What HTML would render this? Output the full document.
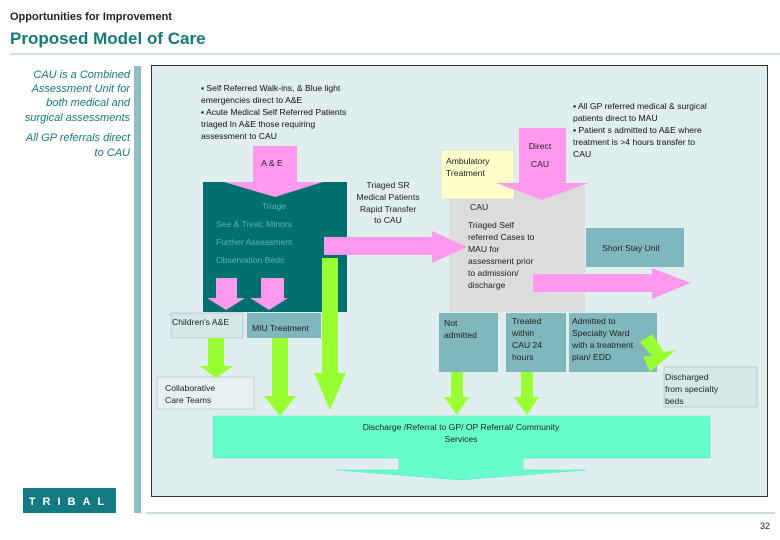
<!DOCTYPE html>
<html><head><meta charset="utf-8"><style>
body{margin:0;width:780px;height:540px;background:#fff;overflow:hidden;font-family:"Liberation Sans",Arial,sans-serif;}
svg{position:absolute;left:0;top:0}
text{font-family:"Liberation Sans",Arial,sans-serif;}
</style></head><body>
<svg width="780" height="540" viewBox="0 0 780 540">
<text x="10" y="20" font-size="11" font-weight="bold" fill="#222">Opportunities for Improvement</text>
<text x="10" y="44" font-size="17" font-weight="bold" fill="#137a78">Proposed Model of Care</text>
<line x1="10" y1="54" x2="780" y2="54" stroke="#9bbcbc" stroke-width="1"/>
<g font-size="11" font-style="italic" fill="#137a78" text-anchor="end">
<text x="130" y="78">CAU is a Combined</text>
<text x="130" y="92">Assessment Unit for</text>
<text x="130" y="106">both medical and</text>
<text x="130" y="121">surgical assessments</text>
<text x="130" y="141">All GP referrals direct</text>
<text x="130" y="156">to CAU</text>
</g>
<rect x="134" y="66" width="7" height="447" fill="#8fbfc2"/>
<rect x="151.5" y="65.5" width="616" height="431" fill="#e0eeee" stroke="#333" stroke-width="1"/>
<line x1="146" y1="513" x2="775" y2="513" stroke="#8fbfc2" stroke-width="1"/>
<rect x="23" y="488" width="93" height="25" fill="#127a80"/>
<text x="70" y="505" font-size="11" font-weight="bold" fill="#fff" text-anchor="middle" letter-spacing="7">TRIBAL</text>
<text x="770" y="529" font-size="9" fill="#222" text-anchor="end">32</text>

<g font-size="8.6" fill="#111">
<text x="201" y="91">▪ Self Referred Walk-ins, &amp; Blue light</text>
<text x="201" y="103">emergencies  direct to A&amp;E</text>
<text x="201" y="115">▪ Acute Medical Self Referred Patients</text>
<text x="201" y="127">triaged In A&amp;E those requiring</text>
<text x="201" y="139">assessment to CAU</text>
<text x="573" y="109">▪ All GP referred medical &amp; surgical</text>
<text x="573" y="121">patients direct to MAU</text>
<text x="573" y="133">▪ Patient s admitted to A&amp;E where</text>
<text x="573" y="145">treatment is &gt;4 hours transfer to</text>
<text x="573" y="157">CAU</text>
</g>

<rect x="203" y="182" width="144" height="130" fill="#00706f"/>
<polygon points="253,146 297,146 297,182 323,182 275,197 224,182 253,182" fill="#ff99ee"/>
<text x="272" y="166" font-size="8.6" fill="#222" text-anchor="middle">A &amp; E</text>
<g font-size="8.6" fill="#5fb3b3">
<text x="262" y="209">Triage</text>
<text x="216" y="227">See &amp; Treat;  Minors</text>
<text x="216" y="245">Further Assessment</text>
<text x="216" y="263">Observation Beds</text>
</g>
<polygon points="216,278 237,278 237,298 245,298 226,310 207,298 216,298" fill="#ff99ee"/>
<polygon points="261,278 284,278 284,298 288,298 269,310 250,298 261,298" fill="#ff99ee"/>

<g font-size="8.6" fill="#222" text-anchor="middle">
<text x="388" y="188">Triaged SR</text>
<text x="388" y="200">Medical Patients</text>
<text x="388" y="212">Rapid Transfer</text>
<text x="388" y="223">to CAU</text>
</g>

<rect x="449" y="187" width="136" height="125" fill="#dcdcdc"/>
<polygon points="324,237 432,237 432,231 467,247 432,263 432,255 324,255" fill="#ff99ee"/>
<rect x="441" y="150" width="73" height="49" fill="#ffffcc" stroke="#ccc" stroke-width="0.5"/>
<text x="446" y="164" font-size="8.6" fill="#222">Ambulatory</text>
<text x="446" y="176" font-size="8.6" fill="#222">Treatment</text>
<polygon points="519,128 566,128 566,183 589,183 542,200 496,183 519,183" fill="#ff99ee"/>
<text x="540" y="149" font-size="8.6" fill="#222" text-anchor="middle">Direct</text>
<text x="540" y="167" font-size="8.6" fill="#222" text-anchor="middle">CAU</text>
<g font-size="8.6" fill="#222">
<text x="470" y="210">CAU</text>
<text x="468" y="228">Triaged Self</text>
<text x="468" y="240">referred Cases to</text>
<text x="468" y="252">MAU for</text>
<text x="468" y="264">assessment prior</text>
<text x="468" y="276">to admission/</text>
<text x="468" y="288">discharge</text>
</g>
<rect x="586" y="228" width="98" height="39" fill="#7fb7bd"/>
<text x="631" y="251" font-size="8.6" fill="#222" text-anchor="middle">Short Stay Unit</text>
<polygon points="533,274 652,274 652,268 691,283 652,299 652,292 533,292" fill="#ff99ee"/>

<rect x="171" y="313" width="72" height="25" fill="#d4e8e8" stroke="#aac" stroke-width="0.5"/>
<text x="172" y="325" font-size="8.6" fill="#222">Children's A&amp;E</text>
<rect x="247" y="313" width="74" height="25" fill="#7fb7bd"/>
<text x="252" y="331" font-size="8.6" fill="#222">MIU Treatment</text>

<rect x="439" y="313" width="59" height="59" fill="#7fb7bd"/>
<text x="444" y="326" font-size="8.6" fill="#222">Not</text>
<text x="444" y="338" font-size="8.6" fill="#222">admitted</text>
<rect x="506" y="313" width="60" height="59" fill="#7fb7bd"/>
<g font-size="8.6" fill="#222">
<text x="512" y="324">Treated</text>
<text x="512" y="336">within</text>
<text x="512" y="348">CAU 24</text>
<text x="512" y="360">hours</text>
</g>
<rect x="569" y="313" width="88" height="59" fill="#7fb7bd"/>
<g font-size="8.6" fill="#222">
<text x="572" y="324">Admitted to</text>
<text x="572" y="336">Specialty Ward</text>
<text x="572" y="348">with a treatment</text>
<text x="572" y="360">plan/ EDD</text>
</g>
<rect x="664" y="367" width="93" height="40" fill="#d4e8e8" stroke="#aab" stroke-width="0.5"/>
<g font-size="8.6" fill="#222">
<text x="665" y="380">Discharged</text>
<text x="665" y="392">from specialty</text>
<text x="665" y="404">beds</text>
</g>
<rect x="157" y="377" width="97" height="32" fill="#e6f2f2" stroke="#aab" stroke-width="0.5"/>
<text x="165" y="391" font-size="8.6" fill="#222">Collaborative</text>
<text x="165" y="403" font-size="8.6" fill="#222">Care Teams</text>

<g fill="#99ff33">
<polygon points="208,338 224,338 224,366 233,366 216,378 200,366 208,366"/>
<polygon points="272,338 288,338 288,396 296,396 280,416 264,396 272,396"/>
<polygon points="322,258 338,258 338,373 346,373 330,410 314,373 322,373"/>
<polygon points="451,372 463,372 463,397 469,397 457,415 444,397 451,397"/>
<polygon points="521,372 533,372 533,397 539,397 527,415 514,397 521,397"/>
<polygon points="640,342 652,334 664,352 676,350 650,372 643,356 652,356"/>
</g>

<polygon points="213,416 710,416 710,458 523,458 523,470 586,470 461,480 336,470 399,470 399,458 213,458" fill="#66ffcc" stroke="#5dd" stroke-width="0.5"/>
<text x="461" y="430" font-size="8.6" fill="#222" text-anchor="middle">Discharge /Referral to GP/ OP Referral/ Community</text>
<text x="461" y="442" font-size="8.6" fill="#222" text-anchor="middle">Services</text>
</svg>
</body></html>
